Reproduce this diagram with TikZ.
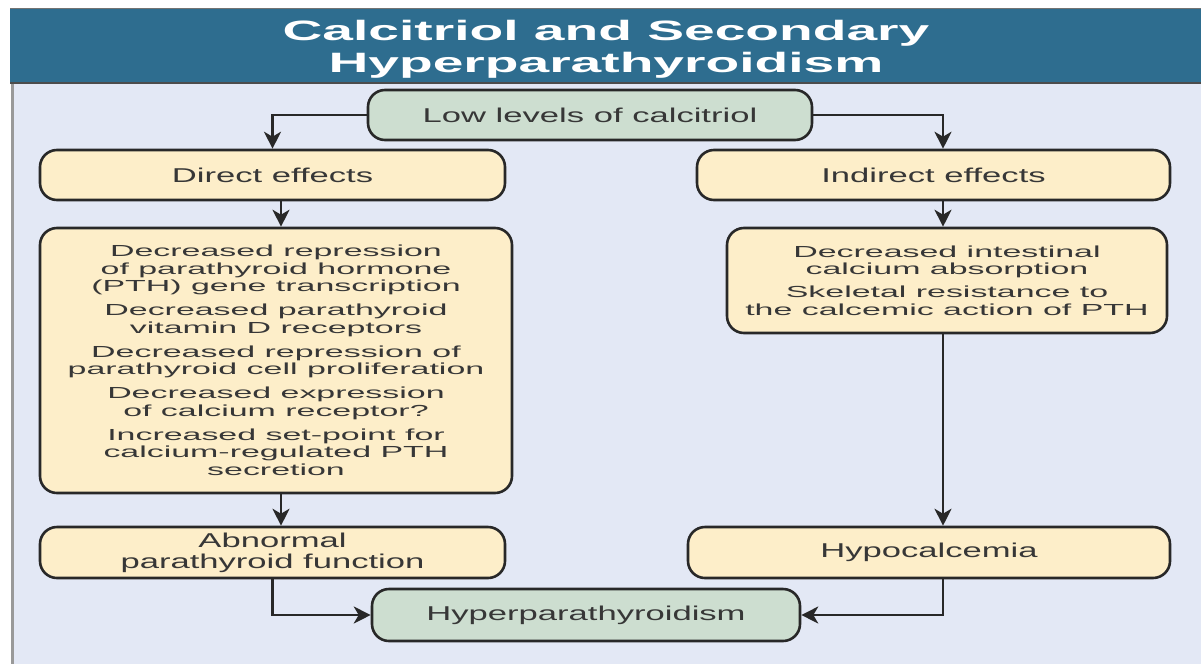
\documentclass[tikz,border=0pt]{standalone}
\usepackage{fontspec}
\setmainfont{Liberation Sans}
\newfontfamily\titlefont[FakeStretch=1.97]{Liberation Sans}
\newfontfamily\labelfont[FakeStretch=1.73]{Liberation Sans}
\newfontfamily\bodyfont[FakeStretch=2.12]{Liberation Sans}
\usetikzlibrary{arrows.meta}
\definecolor{bandblue}{RGB}{46,109,143}
\definecolor{panelbg}{RGB}{227,232,245}
\definecolor{beige}{RGB}{253,238,201}
\definecolor{sage}{RGB}{205,222,208}
\definecolor{txt}{RGB}{55,55,55}
\definecolor{edge}{RGB}{40,40,40}
\tikzset{
  boxbase/.style={draw=edge, line width=2.6pt, rounded corners=17pt, inner sep=0pt, align=center, text=txt},
  beigebox/.style={boxbase, fill=beige},
  sagebox/.style={boxbase, fill=sage},
  lbl/.style={font=\labelfont\fontsize{20}{21}\selectfont},
  bdy/.style={font=\bodyfont\fontsize{16}{17.5}\selectfont},
  arr/.style={draw=edge, line width=2.2pt, -{Stealth[length=17pt,width=17pt,inset=5pt]}},
}
\begin{document}
\begin{tikzpicture}[x=1pt,y=-1pt]
\useasboundingbox (0,0) rectangle (1201,664);
\fill[white] (0,0) rectangle (1201,664);
% panel
\fill[panelbg] (12,83) rectangle (1201,664);
\draw[black!40, line width=3pt] (12,83) -- (12,664);
% title band
\fill[bandblue] (10,8) rectangle (1201,83);
\draw[black!55, line width=1pt] (10,8) -- (1201,8);
\draw[black!70, line width=1.5pt] (10,83) -- (1201,83);
\node[text=white, align=center, font=\titlefont\bfseries\fontsize{28}{32}\selectfont] (title) at (606,49) {Calcitriol and Secondary\\Hyperparathyroidism};
% column coordinates
\coordinate (lc) at (281,0);
\coordinate (rc) at (943,0);
% nodes
\node[sagebox, lbl, minimum width=444pt, minimum height=50pt] (low) at (590,115) {Low levels of calcitriol};
\node[beigebox, lbl, minimum width=465pt, minimum height=50pt] (direct) at (272.5,175) {Direct effects};
\node[beigebox, lbl, minimum width=473pt, minimum height=50pt] (indirect) at (933.5,175) {Indirect effects};
\node[beigebox, bdy, minimum width=472pt, minimum height=265pt] (big) at (276,360.5) {Decreased repression\\of parathyroid hormone\\(PTH) gene transcription\\[6.5pt]Decreased parathyroid\\vitamin D receptors\\[6.5pt]Decreased repression of\\parathyroid cell proliferation\\[6.5pt]Decreased expression\\of calcium receptor?\\[6.5pt]Increased set-point for\\calcium-regulated PTH\\secretion};
\node[beigebox, bdy, minimum width=440pt, minimum height=105pt] (rbody) at (947,280.5) {Decreased intestinal\\calcium absorption\\[5.5pt]Skeletal resistance to\\the calcemic action of PTH};
\node[beigebox, lbl, minimum width=465pt, minimum height=51pt] (abn) at (272.5,552.5) {Abnormal\\parathyroid function};
\node[beigebox, lbl, minimum width=482pt, minimum height=51pt] (hypo) at (929,552.5) {Hypocalcemia};
\node[sagebox, lbl, minimum width=428pt, minimum height=52pt] (hyper) at (586,615) {Hyperparathyroidism};
% connectors
\draw[arr] (low.west) -| (direct.north);
\draw[arr] (low.east) -| (indirect.north -| rc);
\draw[arr] (direct.south -| lc) -- (big.north -| lc);
\draw[arr] (indirect.south -| rc) -- (rbody.north -| rc);
\draw[arr] (big.south -| lc) -- (abn.north -| lc);
\draw[arr] (rbody.south -| rc) -- (hypo.north -| rc);
\draw[arr] (abn.south) |- (hyper.west);
\draw[arr] (hypo.south -| rc) |- (hyper.east);
\end{tikzpicture}
\end{document}
